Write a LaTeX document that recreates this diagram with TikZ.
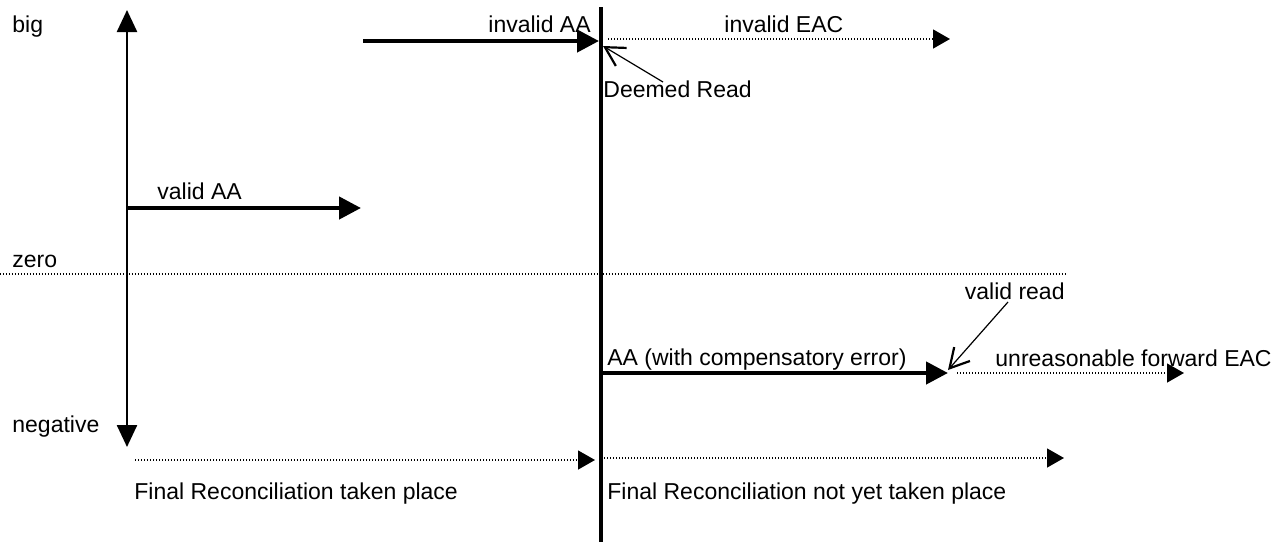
\documentclass[tikz,border=0pt]{standalone}
\usepackage{fontspec}
\setmainfont{Liberation Sans}
\usetikzlibrary{arrows.meta}
\def\tri{Triangle[length=11pt,width=11pt]}

\begin{document}
\begin{tikzpicture}[x=0.5pt,y=-0.5pt,
    lbl/.style={inner sep=0pt,font=\fontsize{11.5}{13.8}\selectfont},
    bigarrow/.style={line width=2.2pt,-{\tri}},
    dotarrow/.style={line width=0.7pt,dash pattern=on 0.7pt off 0.8pt,-{Triangle[length=8.5pt,width=9.5pt]}},
    pointer/.style={line width=0.6pt,-{Straight Barb[length=9.5pt,width=10.5pt,line width=1.1pt]}}]
    \fill[white] (0,0) rectangle (1286,542);
    \useasboundingbox (0,0) rectangle (1286,542);
    % axis and divider
    \coordinate (axtop) at (127,10); \coordinate (axbot) at (127,447);
    \coordinate (divtop) at (601,7); \coordinate (divbot) at (601,542);
    \draw[line width=1.25pt,{Triangle[length=11pt,width=10pt]}-{Triangle[length=11pt,width=10pt]}] (axtop) -- (axbot);
    \draw[line width=2pt] (divtop) -- (divbot);
    \coordinate (z0) at (0,274); \coordinate (z1) at (1066,274);
    \draw[line width=0.7pt,dash pattern=on 0.7pt off 0.8pt] (z0) -- (z1);
    % levels
    \node[lbl,anchor=base west] (big) at (12,32) {big};
    \node[lbl,anchor=base west] (zero) at (12,267) {zero};
    \node[lbl,anchor=base west] (neg) at (12,432) {negative};
    % upper part
    \coordinate (iaa0) at (363,41); \coordinate (iaa1) at (599,41);
    \draw[bigarrow] (iaa0) -- (iaa1);
    \node[lbl,anchor=base west] (iaa) at (488,32) {invalid AA};
    \coordinate (eac0) at (608,39); \coordinate (eac1) at (950,39);
    \draw[dotarrow] (eac0) -- (eac1);
    \node[lbl,anchor=base west] (ieac) at (724,32) {invalid EAC};
    \node[lbl,anchor=base west] (deemed) at (603,97) {Deemed Read};
    \coordinate (dr0) at (663,82); \coordinate (dr1) at (603,46);
    \draw[pointer] (dr0) -- (dr1);
    \coordinate (vaa0) at (128,208); \coordinate (vaa1) at (361,208);
    \draw[bigarrow] (vaa0) -- (vaa1);
    \node[lbl,anchor=base west] (vaa) at (157,199) {valid AA};
    % lower part
    \coordinate (aa0) at (600,373); \coordinate (aa1) at (948,373);
    \draw[bigarrow] (aa0) -- (aa1);
    \node[lbl,anchor=base west] (aa) at (607,365) {AA (with compensatory error)};
    \node[lbl,anchor=base east] (vread) at (1065,299) {valid read};
    \coordinate (vr0) at (1008,302); \coordinate (vr1) at (948,370);
    \draw[pointer] (vr0) -- (vr1);
    \coordinate (ufe0) at (957,373); \coordinate (ufe1) at (1184,373);
    \draw[dotarrow] (ufe0) -- (ufe1);
    \node[lbl,anchor=base east] (ufe) at (1272,366) {unreasonable forward EAC};
    % reconciliation
    \coordinate (fl0) at (135,460); \coordinate (fl1) at (595,460);
    \coordinate (fr0) at (604,458); \coordinate (fr1) at (1064,458);
    \draw[dotarrow] (fl0) -- (fl1);
    \draw[dotarrow] (fr0) -- (fr1);
    \node[lbl,anchor=base west] (frl) at (134,499) {Final Reconciliation taken place};
    \node[lbl,anchor=base west] (frr) at (607,499) {Final Reconciliation not yet taken place};
\end{tikzpicture}
\end{document}
